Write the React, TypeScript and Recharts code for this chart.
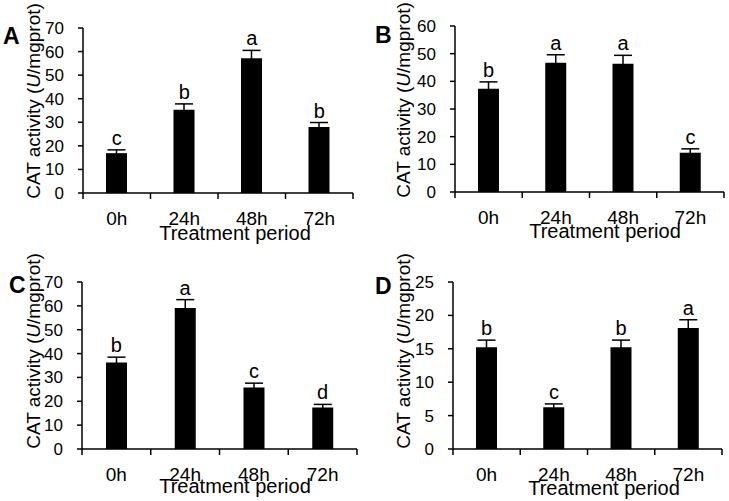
import React from 'react';
import { ComposedChart, Bar, Line, XAxis, YAxis, ErrorBar, LabelList } from 'recharts';

const HOURS = ['0h', '24h', '48h', '72h'];

const MEAN_A = [16.9, 35.3, 57.2, 28.0];
const ERR_A = [1.4, 2.5, 3.3, 1.9];
const SIG_A = ['c', 'b', 'a', 'b'];

const MEAN_B = [37.3, 46.7, 46.4, 14.2];
const ERR_B = [2.5, 2.9, 3.0, 1.4];
const SIG_B = ['b', 'a', 'a', 'c'];

const MEAN_C = [36.3, 59.1, 25.8, 17.4];
const ERR_C = [2.2, 3.5, 1.8, 1.3];
const SIG_C = ['b', 'a', 'c', 'd'];

const MEAN_D = [15.25, 6.25, 15.25, 18.1];
const ERR_D = [1.05, 0.5, 1.05, 1.25];
const SIG_D = ['b', 'c', 'b', 'a'];

const TICKS_70 = [0, 10, 20, 30, 40, 50, 60, 70];
const TICKS_60 = [0, 10, 20, 30, 40, 50, 60];
const TICKS_25 = [0, 5, 10, 15, 20, 25];

const FONT = '"Liberation Sans", Arial, sans-serif';
const TICK_SIZE = 5;
const X_TICK_MARGIN = 14;

function buildRows(mean: number[], err: number[], sig: string[]) {
  return HOURS.map((hour, i) => ({
    hour,
    mean: mean[i],
    err: err[i],
    top: mean[i] + err[i],
    sig: sig[i],
  }));
}

// x ticks sit on the category boundaries, labels in the middle
function BoundaryTick(props: any) {
  const { x, y, payload, index } = props;
  const half = payload.offset ?? 0;
  const y0 = y - X_TICK_MARGIN - TICK_SIZE;
  return (
    <g>
      {index === 0 && (
        <line x1={x - half} x2={x - half} y1={y0} y2={y0 + TICK_SIZE + 1} stroke="#000" strokeWidth={1.5} />
      )}
      <line x1={x + half} x2={x + half} y1={y0} y2={y0 + TICK_SIZE + 1} stroke="#000" strokeWidth={1.5} />
      <text x={x} y={y} dy="0.71em" textAnchor="middle" fontSize={19} fill="#000" fontFamily={FONT}>
        {payload.value}
      </text>
    </g>
  );
}

function YTitle({ cx, cy }: { cx: number; cy: number }) {
  return (
    <text
      x={cx}
      y={cy}
      transform={`rotate(-90, ${cx}, ${cy})`}
      textAnchor="middle"
      dominantBaseline="central"
      fontSize={19}
      fill="#000"
      fontFamily={FONT}
    >
      CAT activity (<tspan fontStyle="italic">U</tspan>/mgprot)
    </text>
  );
}

function XTitle({ cx, by }: { cx: number; by: number }) {
  return (
    <text x={cx} y={by} textAnchor="middle" fontSize={20} fill="#000" fontFamily={FONT}>
      Treatment period
    </text>
  );
}

interface PanelProps {
  letter: string;
  rows: ReturnType<typeof buildRows>;
  ticks: number[];
  left: number;
  top: number;
  width: number;
  height: number;
  margin: { top: number; right: number; left: number; bottom: number };
  yAxisWidth: number;
  xAxisHeight: number;
  yTitle: { cx: number; cy: number };
  xTitle: { cx: number; by: number };
  letterPos: { x: number; y: number };
}

function Panel(p: PanelProps) {
  const max = p.ticks[p.ticks.length - 1];
  return (
    <div style={{ position: 'absolute', left: p.left, top: p.top, width: p.width, height: p.height }}>
      <ComposedChart width={p.width} height={p.height} data={p.rows} margin={p.margin}>
        <XAxis
          dataKey="hour"
          height={p.xAxisHeight}
          axisLine={{ stroke: '#000', strokeWidth: 1.5 }}
          tickLine={false}
          tickSize={TICK_SIZE}
          tickMargin={X_TICK_MARGIN}
          tick={<BoundaryTick />}
          interval={0}
          label={<XTitle cx={p.xTitle.cx} by={p.xTitle.by} />}
        />
        <YAxis
          width={p.yAxisWidth}
          domain={[0, max]}
          ticks={p.ticks}
          interval={0}
          axisLine={{ stroke: '#000', strokeWidth: 1.5 }}
          tickLine={{ stroke: '#000', strokeWidth: 1.5 }}
          tickSize={TICK_SIZE}
          tickMargin={14}
          tick={{ fontSize: 17, fill: '#000', fontFamily: FONT }}
          label={<YTitle cx={p.yTitle.cx} cy={p.yTitle.cy} />}
        />
        <Bar dataKey="mean" fill="#000" barSize={21} isAnimationActive={false}>
          <ErrorBar dataKey="err" width={9} stroke="#000" strokeWidth={1.5} direction="y" />
        </Bar>
        <Line dataKey="top" stroke="none" dot={false} activeDot={false} isAnimationActive={false}>
          <LabelList dataKey="sig" position="top" offset={5} fontSize={20} fill="#000" fontFamily={FONT} />
        </Line>
      </ComposedChart>
      <svg width={40} height={50} style={{ position: 'absolute', left: 0, top: 0 }}>
        <text x={p.letterPos.x} y={p.letterPos.y} fontSize={23} fontWeight="bold" fill="#000" fontFamily={FONT}>
          {p.letter}
        </text>
      </svg>
    </div>
  );
}

export default function App() {
  return (
    <div style={{ position: 'absolute', left: 0, top: 0, width: 729, height: 501, background: '#fff' }}>
      <Panel
        letter="A"
        rows={buildRows(MEAN_A, ERR_A, SIG_A)}
        ticks={TICKS_70}
        left={0}
        top={0}
        width={364}
        height={250}
        margin={{ top: 28, right: 11, left: 0, bottom: 0 }}
        yAxisWidth={83}
        xAxisHeight={57}
        yTitle={{ cx: 33, cy: 101 }}
        xTitle={{ cx: 235, by: 240 }}
        letterPos={{ x: 3, y: 44 }}
      />
      <Panel
        letter="B"
        rows={buildRows(MEAN_B, ERR_B, SIG_B)}
        ticks={TICKS_60}
        left={364}
        top={0}
        width={365}
        height={250}
        margin={{ top: 26, right: 5, left: 0, bottom: 0 }}
        yAxisWidth={91}
        xAxisHeight={58}
        yTitle={{ cx: 39, cy: 100 }}
        xTitle={{ cx: 241, by: 238 }}
        letterPos={{ x: 11, y: 43 }}
      />
      <Panel
        letter="C"
        rows={buildRows(MEAN_C, ERR_C, SIG_C)}
        ticks={TICKS_70}
        left={0}
        top={250}
        width={364}
        height={251}
        margin={{ top: 32, right: 7, left: 0, bottom: 0 }}
        yAxisWidth={82}
        xAxisHeight={52}
        yTitle={{ cx: 33, cy: 101 }}
        xTitle={{ cx: 235, by: 243 }}
        letterPos={{ x: 9, y: 43 }}
      />
      <Panel
        letter="D"
        rows={buildRows(MEAN_D, ERR_D, SIG_D)}
        ticks={TICKS_25}
        left={364}
        top={250}
        width={365}
        height={251}
        margin={{ top: 32, right: 7, left: 0, bottom: 0 }}
        yAxisWidth={89}
        xAxisHeight={52}
        yTitle={{ cx: 39, cy: 101 }}
        xTitle={{ cx: 240, by: 245 }}
        letterPos={{ x: 11, y: 44 }}
      />
    </div>
  );
}
